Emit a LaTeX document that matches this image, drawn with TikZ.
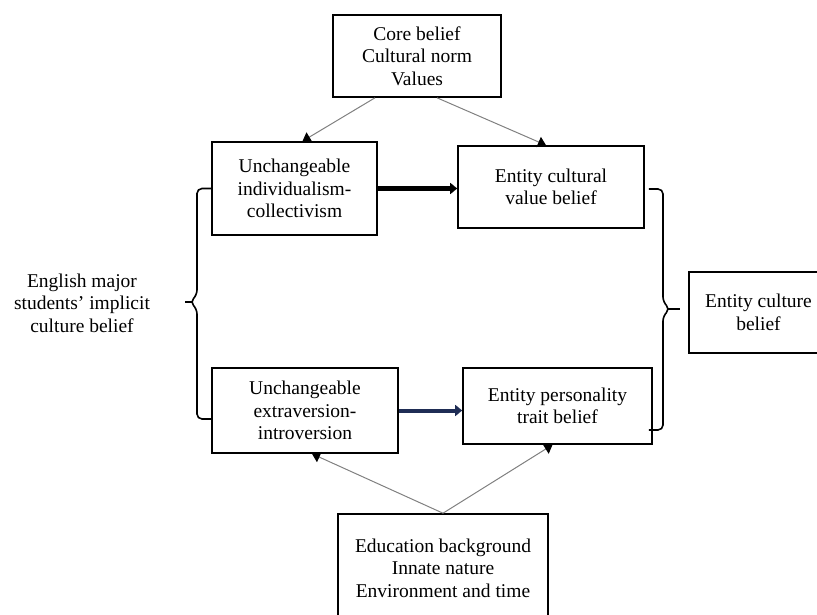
\documentclass[tikz,border=0pt]{standalone}
\usepackage{fontspec}
\setmainfont{Liberation Serif}
\usetikzlibrary{arrows.meta,calc}
\definecolor{navyline}{RGB}{31,45,85}
\begin{document}
\begin{tikzpicture}[x=1pt,y=1pt]
  \tikzstyle{every node}=[align=center,font=\fontsize{19.5}{22.5}\selectfont]
  \tikzstyle{box}=[draw,line width=1.6pt,inner sep=0pt]
  \tikzstyle{thin arrow}=[draw=gray,line width=1pt,-{Triangle[width=11pt,length=8pt,color=black]}]
  \tikzstyle{bold arrow}=[line width=4.5pt,-{Triangle[width=11pt,length=7pt]}]
  \tikzstyle{curly}=[line width=1.6pt,rounded corners=5pt]
  \useasboundingbox (0,0) rectangle (817,-615);
  \clip (0,0) rectangle (817,-615);
  \node[box,minimum width=168pt,minimum height=82pt] (core) at (417,-56) {Core belief\\Cultural norm\\Values};
  \node[box,minimum width=165pt,minimum height=93pt] (uic) at (294.5,-188.5) {Unchangeable\\individualism-\\collectivism};
  \node[box,minimum width=186pt,minimum height=82pt] (ecv) at (551,-187) {Entity cultural\\value belief};
  \node[box,minimum width=186pt,minimum height=85pt] (uei) at (305,-410.5) {Unchangeable\\extraversion-\\introversion};
  \node[box,minimum width=189pt,minimum height=76pt] (ept) at (557.5,-406) {Entity personality\\trait belief};
  \node[box,minimum width=139pt,minimum height=81pt] (ecb) at (758.5,-312.5) {Entity culture\\belief};
  \node[box,minimum width=210pt,minimum height=108pt] (edu) at (443,-568) {Education background\\Innate nature\\Environment and time};
  \node (implicit) at (82,-303) {English major\\students' implicit\\culture belief};
  \draw[thin arrow] ($(core.south)+(-42,0)$) -- ($(uic.north)+(8,0)$);
  \draw[thin arrow] ($(core.south)+(20,0)$) -- ($(ecv.north)+(-5,0)$);
  \draw[thin arrow] (edu.north) -- ($(uei.south)+(7,0)$);
  \draw[thin arrow] (edu.north) -- ($(ept.south)+(-5,0)$);
  \draw[bold arrow] (uic.east) -- (uic.east -| ecv.west);
  \draw[bold arrow,navyline,line width=4pt] (uei.east) -- (uei.east -| ept.west);
  \draw[curly] (uic.west) -- (197,-188.5) -- (197,-295) -- (190,-302) -- (197,-309) -- (197,-419) -- ($(uei.west)+(0,-8.5)$);
  \draw[curly] (192,-302) -- (185,-302);
  \draw[curly] ($(ecv.east)+(4,-2)$) -- (663,-189) -- (663,-302) -- (670,-309) -- (663,-316) -- (663,-430) -- ($(ept.east)+(-4,-24)$);
  \draw[curly] (668,-309) -- (680,-309);
\end{tikzpicture}
\end{document}
